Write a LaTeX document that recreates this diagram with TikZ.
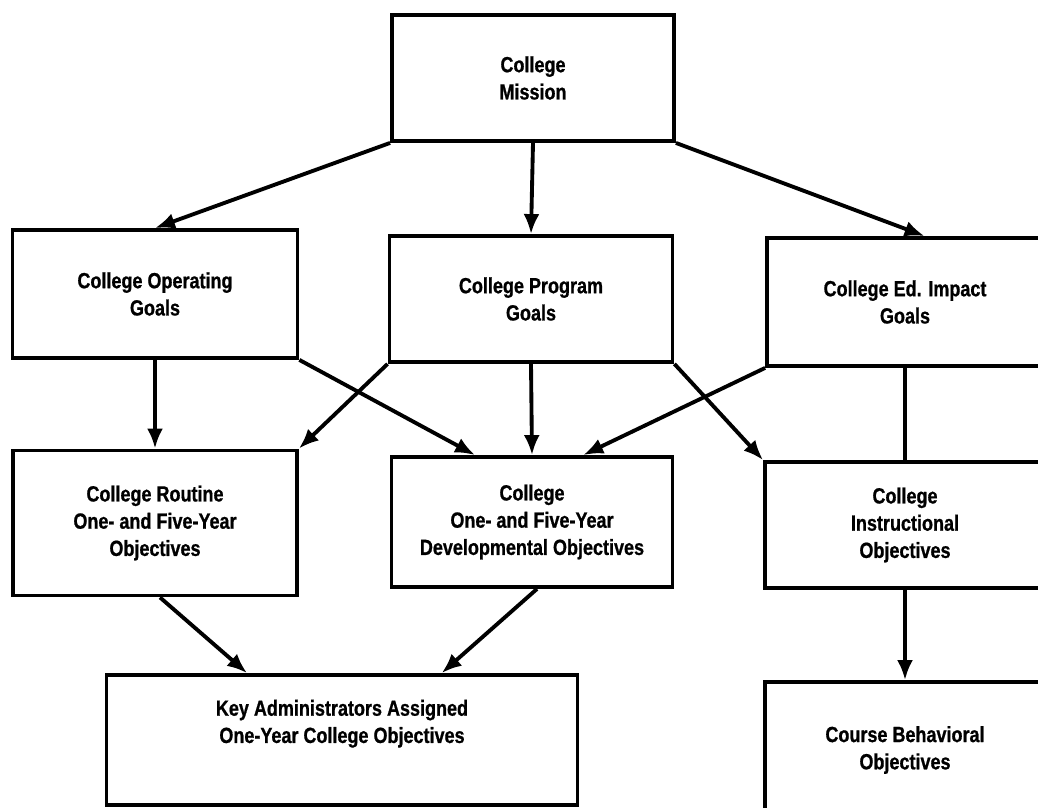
\documentclass[tikz,border=0pt]{standalone}
\usepackage{fontspec}
\setmainfont{Liberation Sans}[FakeStretch=0.82, BoldFeatures={FakeBold=0.8}]
\usetikzlibrary{shapes,arrows.meta,calc}

\begin{document}
\begin{tikzpicture}[x=0.02cm, y=-0.02cm,
  goalbox/.style={draw, line width=2.2pt, align=center, inner sep=0pt,
    font=\bfseries\fontsize{12.5}{15.5}\selectfont},
  flow/.style={line width=2.2pt, -{Latex[length=4mm,width=3.2mm]}}]
  \useasboundingbox (0,0) rectangle (1038,808);
  \clip (0,0) rectangle (1038,808);

  \node[goalbox, minimum width=5.64cm, minimum height=2.52cm] (mission) at (533,78) {College\\Mission};

  \node[goalbox, minimum width=5.70cm, minimum height=2.56cm] (opgoals) at (155,294) {College Operating\\Goals};
  \node[goalbox, minimum width=5.66cm, minimum height=2.52cm] (proggoals) at (531,299) {College Program\\Goals};
  \node[goalbox, minimum width=5.52cm, minimum height=2.56cm] (impgoals) at (905,302) {College Ed. Impact\\Goals};

  \node[goalbox, minimum width=5.68cm, minimum height=2.90cm] (routine) at (155,523) {College Routine\\One- and Five-Year\\Objectives};
  \node[goalbox, minimum width=5.62cm, minimum height=2.60cm] (develop) at (532,522) {College\\One- and Five-Year\\Developmental Objectives};
  \node[goalbox, minimum width=5.60cm, minimum height=2.52cm] (instr) at (905,525) {College\\Instructional\\Objectives};

  \node[goalbox, minimum width=9.42cm, minimum height=2.60cm] (keyadmin) at (342,740) {Key Administrators Assigned\\One-Year College Objectives\\[0.2cm]};
  \node[goalbox, minimum width=5.60cm, minimum height=2.72cm] (course) at (905,750) {Course Behavioral\\Objectives};

  % mission to goals
  \draw[flow] (mission.south west) -- (opgoals.north);
  \draw[flow] (mission.south) -- (proggoals.north);
  \draw[flow] (mission.south east) -- ($(impgoals.north west)!0.57!(impgoals.north east)$);

  % goals to objectives
  \draw[flow] (opgoals.south) -- (routine.north);
  \draw[flow] (opgoals.south east) -- ($(develop.north west)!0.3!(develop.north east)$);
  \draw[flow] (proggoals.south west) -- (routine.north east);
  \draw[flow] (proggoals.south) -- (develop.north);
  \draw[flow] (proggoals.south east) -- (instr.north west);
  \draw[flow] (impgoals.south west) -- ($(develop.north west)!0.68!(develop.north east)$);
  \draw[line width=2.2pt] (impgoals.south) -- (instr.north);

  % objectives to bottom row
  \draw[flow] ($(routine.south)+(5,0)$) -- ($(keyadmin.north west)!0.3!(keyadmin.north east)$);
  \draw[flow] ($(develop.south)+(5,0)$) -- ($(keyadmin.north west)!0.71!(keyadmin.north east)$);
  \draw[flow] (instr.south) -- (course.north);
\end{tikzpicture}
\end{document}
